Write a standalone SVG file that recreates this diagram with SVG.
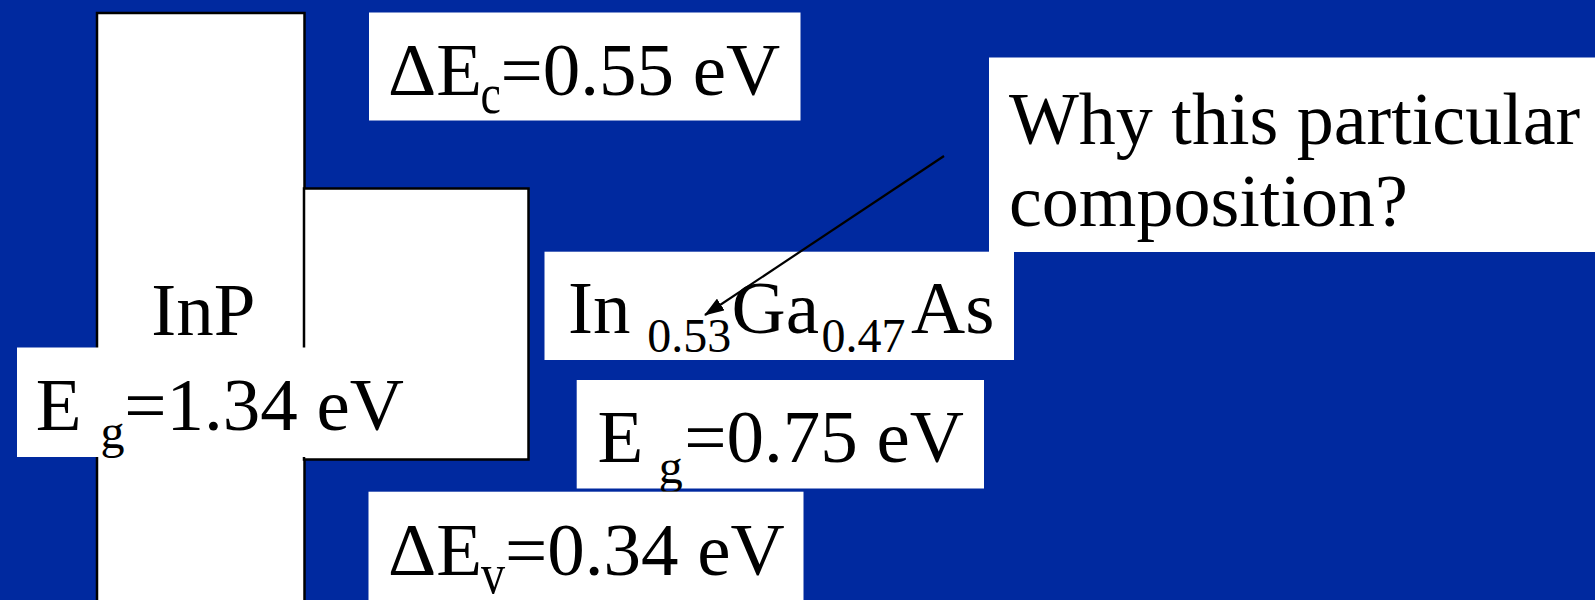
<svg xmlns="http://www.w3.org/2000/svg" width="1595" height="600" viewBox="0 0 1595 600">
<defs>
<style>
.box{fill:#ffffff}
.band{fill:#ffffff;stroke:#000000;stroke-width:2.5}
.t{font-family:"Liberation Serif","Times New Roman",serif;font-size:75px;fill:#000000}
.q{font-family:"Liberation Serif","Times New Roman",serif;font-size:74px;fill:#000000}
.s{font-family:"Liberation Serif","Times New Roman",serif;font-size:48px;fill:#000000}
.s2{font-family:"Liberation Serif","Times New Roman",serif;font-size:56px;fill:#000000}
.conn{stroke:#000000;stroke-width:2.2;fill:none}
</style>
<marker id="arrow" markerUnits="userSpaceOnUse" markerWidth="20" markerHeight="14" viewBox="0 0 20 14" refX="19" refY="7" orient="auto">
<path d="M0,0 L20,7 L0,14 Z" fill="#000000"/>
</marker>
</defs>
<rect x="0" y="0" width="1595" height="600" fill="#00299F"/>

<g id="inp-band">
<rect class="band" x="97" y="13" width="207.5" height="600"/>
</g>
<g id="ingaas-band">
<rect class="band" x="304" y="188.5" width="224.5" height="271"/>
</g>
<g id="inp-label">
<text class="t" x="151.3" y="335">InP</text>
</g>
<g id="inp-eg">
<rect class="box" x="17" y="347.5" width="410" height="109.5"/>
<text class="t" x="35.8" y="430">E</text>
<text class="s" x="100.4" y="448">g</text>
<text class="t" x="124.2" y="430">=1.34 eV</text>
</g>
<g id="delta-ec">
<rect class="box" x="369" y="12.5" width="431.5" height="108"/>
<text class="t" x="388" y="95">ΔE</text>
<text class="s2" transform="translate(480.5,113) scale(0.82,1)" x="0" y="0">c</text>
<text class="t" x="500.5" y="95">=0.55 eV</text>
</g>
<g id="question">
<rect class="box" x="989" y="57.5" width="606" height="194.5"/>
<text class="q" x="1009" y="144">Why this particular</text>
<text class="q" x="1009" y="226">composition?</text>
</g>
<g id="ingaas-label">
<rect class="box" x="544.5" y="251.7" width="469.5" height="108.3"/>
<text class="t" x="568" y="333.3">In</text>
<text class="s" x="647.2" y="351.7">0.53</text>
<text class="t" x="731.6" y="333.3">Ga</text>
<text class="s" x="821.5" y="351.7">0.47</text>
<text class="t" x="911" y="333.3">As</text>
</g>
<g id="ingaas-eg">
<rect class="box" x="576.7" y="380" width="407.3" height="108.5"/>
<text class="t" x="597.4" y="461.7">E</text>
<text class="s" x="658.7" y="483">g</text>
<text class="t" x="684.2" y="461.7">=0.75 eV</text>
</g>
<g id="delta-ev">
<rect class="box" x="368.5" y="491.7" width="435" height="110"/>
<text class="t" x="388" y="575">ΔE</text>
<text class="s2" transform="translate(481,593) scale(0.86,1)" x="0" y="0">v</text>
<text class="t" x="505" y="575">=0.34 eV</text>
</g>
<g id="connectors">
<line class="conn" x1="944" y1="156" x2="705" y2="315" marker-end="url(#arrow)"/>
</g>
</svg>
